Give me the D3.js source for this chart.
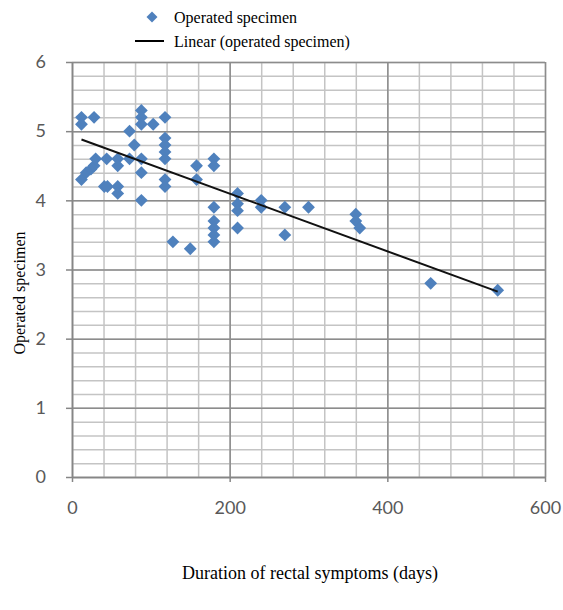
<!DOCTYPE html>
<html>
<head>
<meta charset="utf-8">
<script src="https://cdnjs.cloudflare.com/ajax/libs/d3/7.8.5/d3.min.js"></script>
<style>
    body { margin: 0; background: #fff; }
    .tick text { font-family: Lato, "Open Sans", sans-serif; font-size: 18px; fill: #595959; }
    .title { font-family: "Liberation Serif", "Times New Roman", serif; font-size: 16px; fill: #000; }
</style>
</head>
<body>
<svg id="chart" width="563" height="610"></svg>
<script>
// duration of rectal symptoms (days) / operated specimen
const days = [12, 12, 28, 73, 88, 88, 88, 103, 118,
    118, 118, 118, 118, 79, 73, 88, 88, 88,
    44, 58, 58, 12, 18, 24, 28, 30,
    41, 45, 58, 58, 118, 118,
    158, 158, 180, 180, 180, 180, 180, 180, 180,
    128, 150, 210, 210, 210, 210, 240, 240, 270, 270, 300, 360, 360, 365, 455, 540];
const specimen = [5.2, 5.1, 5.2, 5.0, 5.3, 5.2, 5.1, 5.1, 5.2,
    4.9, 4.8, 4.7, 4.6, 4.8, 4.6, 4.6, 4.4, 4.0,
    4.6, 4.6, 4.5, 4.3, 4.4, 4.45, 4.5, 4.6,
    4.2, 4.2, 4.2, 4.1, 4.3, 4.2,
    4.5, 4.3, 4.6, 4.5, 3.9, 3.7, 3.6, 3.5, 3.4,
    3.4, 3.3, 4.1, 3.95, 3.85, 3.6, 4.0, 3.9, 3.9, 3.5, 3.9, 3.8, 3.7, 3.6, 2.8, 2.7];

// linear trend line (Excel style), ends
const trendDays = [12, 540];
const trendSpecimen = [4.88, 2.68];

const xTicks = [0, 200, 400, 600];
const yTicks = [0, 1, 2, 3, 4, 5, 6];
const xMinor = d3.range(0, 601, 40);
const yMinor = d3.range(0, 30.5, 1).map(function (d) { return d / 5; });

const svg = d3.select("#chart");

const x = d3.scaleLinear().domain([0, 600]).range([72, 545]);
const y = d3.scaleLinear().domain([0, 6]).range([477, 62]);
const plotH = y(0) - y(6);
const plotW = x(600) - x(0);

function gridStyle(color) {
    return function (g) {
        g.select(".domain").remove();
        g.selectAll("line").attr("stroke", color).attr("stroke-width", 1.5);
    };
}

function axisStyle(g) {
    g.select(".domain").attr("stroke", "#868686").attr("stroke-width", 1.5);
    g.selectAll("line").attr("stroke", "#868686").attr("stroke-width", 1.5);
}

// minor grid
svg.append("g")
    .attr("transform", "translate(0," + y(0) + ")")
    .call(d3.axisBottom(x).tickValues(xMinor).tickSize(-plotH).tickFormat(""))
    .call(gridStyle("#c4c4c4"));

svg.append("g")
    .attr("transform", "translate(" + x(0) + ",0)")
    .call(d3.axisLeft(y).tickValues(yMinor).tickSize(-plotW).tickFormat(""))
    .call(gridStyle("#c4c4c4"));

// major grid
svg.append("g")
    .attr("transform", "translate(0," + y(0) + ")")
    .call(d3.axisBottom(x).tickValues(xTicks).tickSize(-plotH).tickFormat(""))
    .call(gridStyle("#8c8c8c"));

svg.append("g")
    .attr("transform", "translate(" + x(0) + ",0)")
    .call(d3.axisLeft(y).tickValues(yTicks).tickSize(-plotW).tickFormat(""))
    .call(gridStyle("#8c8c8c"));

// axes with labels
svg.append("g")
    .attr("transform", "translate(0," + y(0) + ")")
    .call(d3.axisBottom(x).tickValues(xTicks).tickFormat(d3.format("d"))
        .tickSize(5).tickSizeOuter(0).tickPadding(19))
    .call(axisStyle);

svg.append("g")
    .attr("transform", "translate(" + x(0) + ",0)")
    .call(d3.axisLeft(y).tickValues(yTicks).tickFormat(d3.format("d"))
        .tickSize(6).tickSizeOuter(0).tickPadding(20))
    .call(axisStyle);

// points
const diamond = d3.symbol().type(d3.symbolSquare).size(82);

svg.append("g")
    .selectAll("path")
    .data(d3.range(days.length))
    .enter()
    .append("path")
    .attr("d", diamond)
    .attr("fill", "#4f81bd")
    .attr("transform", function (i) {
        return "translate(" + x(days[i]) + "," + y(specimen[i]) + ") rotate(45)";
    });

// trend line
svg.append("path")
    .datum(d3.range(trendDays.length))
    .attr("fill", "none")
    .attr("stroke", "#111")
    .attr("stroke-width", 2)
    .attr("d", d3.line()
        .x(function (i) { return x(trendDays[i]); })
        .y(function (i) { return y(trendSpecimen[i]); }));

// legend
svg.append("path")
    .attr("d", d3.symbol().type(d3.symbolSquare).size(60))
    .attr("fill", "#4f81bd")
    .attr("transform", "translate(152,17) rotate(45)");

svg.append("text")
    .attr("class", "title")
    .attr("x", 174)
    .attr("y", 23)
    .text("Operated specimen");

svg.append("line")
    .attr("x1", 135).attr("x2", 164)
    .attr("y1", 41).attr("y2", 41)
    .attr("stroke", "#000")
    .attr("stroke-width", 2);

svg.append("text")
    .attr("class", "title")
    .attr("x", 174)
    .attr("y", 47)
    .text("Linear (operated specimen)");

// axis titles
svg.append("text")
    .attr("class", "title")
    .attr("text-anchor", "middle")
    .attr("transform", "translate(25,293) rotate(-90)")
    .text("Operated specimen");

svg.append("text")
    .attr("class", "title")
    .attr("text-anchor", "middle")
    .style("font-size", "18px")
    .attr("x", 310)
    .attr("y", 579)
    .text("Duration of rectal symptoms (days)");
</script>
</body>
</html>
